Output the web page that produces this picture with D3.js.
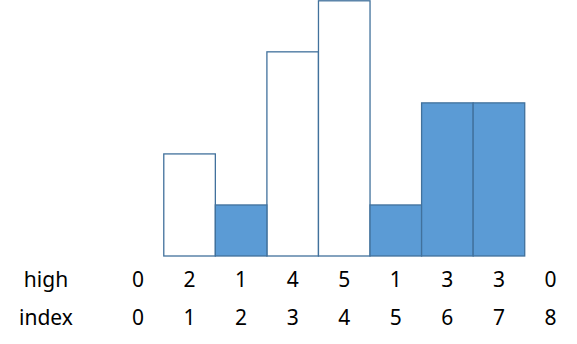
<!DOCTYPE html>
<html>
<head>
<meta charset="utf-8">
<script src="https://cdn.jsdelivr.net/npm/d3@7"></script>
<style>
  html, body { margin: 0; padding: 0; background: #fff; }
  svg { display: block; }
</style>
</head>
<body>
<div id="chart"></div>
<script>
const indexes = [0, 1, 2, 3, 4, 5, 6, 7, 8];
const highs = [0, 2, 1, 4, 5, 1, 3, 3, 0];
const filled = [false, false, true, false, false, true, true, true, false];
const rowLabels = ['high', 'index'];

const width = 577, height = 344;

const svg = d3.select('#chart')
  .append('svg')
  .attr('width', width)
  .attr('height', height);

// x: center of each index column
const x = d3.scaleLinear().domain([0, 8]).range([138, 550.5]);
const y = d3.scaleLinear().domain([0, 5]).range([256, 0.8]);
const half = (x(1) - x(0)) / 2;

const bars = indexes
  .map((d, i) => ({ index: d, high: highs[i], filled: filled[i] }))
  .filter((d) => d.high > 0);

// draw empty bars first so filled ones sit on top of shared edges
svg.selectAll('.bar')
  .data(bars.sort((a, b) => a.filled - b.filled))
  .enter()
  .append('rect')
  .attr('class', 'bar')
  .attr('x', (d) => x(d.index) - half)
  .attr('y', (d) => y(d.high))
  .attr('width', half * 2)
  .attr('height', (d) => y(0) - y(d.high))
  .attr('fill', (d) => (d.filled ? '#5b9bd5' : '#ffffff'))
  .attr('stroke', '#41719c')
  .attr('stroke-width', 1.3);

const font = "'Noto Sans', 'Open Sans', sans-serif";
const rowY = [287, 325];

rowLabels.forEach((label, r) => {
  svg.append('text')
    .attr('x', 46)
    .attr('y', rowY[r])
    .attr('text-anchor', 'middle')
    .attr('font-family', font)
    .attr('font-size', 21)
    .attr('fill', '#000')
    .text(label);
});

const rows = [highs, indexes];
rows.forEach((vals, r) => {
  svg.selectAll('.row' + r)
    .data(vals)
    .enter()
    .append('text')
    .attr('class', 'row' + r)
    .attr('x', (d, i) => x(i))
    .attr('y', rowY[r])
    .attr('text-anchor', 'middle')
    .attr('font-family', font)
    .attr('font-size', 21)
    .attr('fill', '#000')
    .text((d) => d);
});
</script>
</body>
</html>
